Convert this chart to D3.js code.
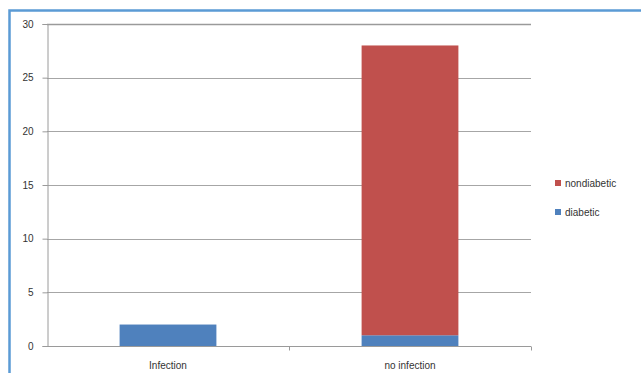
<!DOCTYPE html>
<html>
<head>
<meta charset="utf-8">
<script src="https://cdn.jsdelivr.net/npm/d3@7"></script>
<style>
  body { margin: 0; background: #fff; }
  text { font-family: "Liberation Sans", Arial, sans-serif; fill: #333; }
</style>
</head>
<body>
<div id="chart"></div>
<script>
// chart data
const categories = ["Infection", "no infection"];
const seriesNames = ["diabetic", "nondiabetic"];
const diabetic = [2, 1];
const nondiabetic = [0, 27];
const yTicks = [0, 5, 10, 15, 20, 25, 30];

const colors = { diabetic: "#4f81bd", nondiabetic: "#c0504d" };

const width = 641, height = 373;
const plot = { left: 47, top: 24, right: 531, bottom: 346 };

const svg = d3.select("#chart").append("svg")
    .attr("width", width)
    .attr("height", height);

// outer frame (cut off at right and bottom)
svg.append("path")
    .attr("d", `M9.5,${height + 5} V10.5 H${width + 5}`)
    .attr("fill", "none")
    .attr("stroke", "#5b9bd5")
    .attr("stroke-width", 2.5);

const x = d3.scaleBand()
    .domain(categories)
    .range([plot.left, plot.right])
    .paddingInner(0.6)
    .paddingOuter(0.3);

const y = d3.scaleLinear()
    .domain([0, 30])
    .range([plot.bottom, plot.top]);

// gridlines
svg.append("g")
    .selectAll("line")
    .data(yTicks.filter(d => d > 0))
    .join("line")
    .attr("x1", plot.left)
    .attr("x2", plot.right)
    .attr("y1", d => Math.round(y(d)) + 0.5)
    .attr("y2", d => Math.round(y(d)) + 0.5)
    .attr("stroke", d => d === 30 ? "#9a9a9a" : "#a6a6a6")
    .attr("stroke-width", d => d === 30 ? 1.5 : 1);

// stacked bars
const rows = categories.map((c, i) => ({ category: c, diabetic: diabetic[i], nondiabetic: nondiabetic[i] }));
const stacked = d3.stack().keys(seriesNames)(rows);

svg.append("g")
    .selectAll("g")
    .data(stacked)
    .join("g")
    .attr("fill", s => colors[s.key])
    .selectAll("rect")
    .data(s => s)
    .join("rect")
    .attr("x", d => x(d.data.category))
    .attr("width", x.bandwidth())
    .attr("y", d => y(d[1]))
    .attr("height", d => y(d[0]) - y(d[1]));

// y axis
const yAxis = svg.append("g")
    .attr("transform", `translate(${plot.left + 0.5},0)`)
    .call(d3.axisLeft(y).tickValues(yTicks).tickSize(5).tickPadding(9));
yAxis.select(".domain").attr("stroke", "#9a9a9a");
yAxis.selectAll(".tick line").attr("stroke", "#9a9a9a");
yAxis.selectAll("text").attr("font-size", 10).style("fill", "#333");

// x axis
const xAxis = svg.append("g")
    .attr("transform", `translate(0,${plot.bottom + 0.5})`);
xAxis.append("line")
    .attr("x1", plot.left)
    .attr("x2", plot.right)
    .attr("stroke", "#9a9a9a");
xAxis.selectAll("line.sep")
    .data(d3.range(categories.length + 1).slice(1))
    .join("line")
    .attr("class", "sep")
    .attr("x1", i => plot.left + i * x.step() + 0.5)
    .attr("x2", i => plot.left + i * x.step() + 0.5)
    .attr("y1", 0)
    .attr("y2", 4)
    .attr("stroke", "#9a9a9a");
xAxis.selectAll("text")
    .data(categories)
    .join("text")
    .attr("x", d => x(d) + x.bandwidth() / 2)
    .attr("y", 22)
    .attr("text-anchor", "middle")
    .attr("font-size", 10)
    .text(d => d);

// legend
const legendItems = ["nondiabetic", "diabetic"];
const legend = svg.append("g")
    .attr("transform", "translate(555,180)")
    .selectAll("g")
    .data(legendItems)
    .join("g")
    .attr("transform", (d, i) => `translate(0,${i * 29})`);
legend.append("rect")
    .attr("width", 6)
    .attr("height", 6)
    .attr("fill", d => colors[d]);
legend.append("text")
    .attr("x", 10)
    .attr("y", 7)
    .attr("font-size", 10)
    .text(d => d);
</script>
</body>
</html>
